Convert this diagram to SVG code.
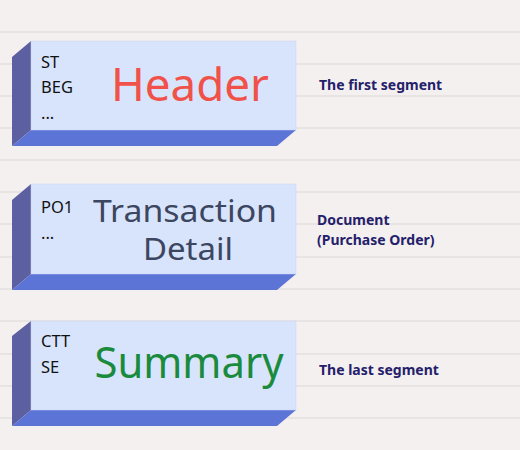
<svg xmlns="http://www.w3.org/2000/svg" width="520" height="450" viewBox="0 0 520 450">
<style>
.bg{fill:#f4f0f0}
.rule{stroke:#e9e4e4;stroke-width:2}
.front{fill:#d8e4fb;stroke:#c8d4f0;stroke-width:0.5}
.side{fill:#5c5fa0}
.bottom{fill:#5c74d6}
.seg{font-family:"Noto Sans","DejaVu Sans",sans-serif;font-size:16.5px;fill:#111}
.title{font-family:"Noto Sans","DejaVu Sans",sans-serif;text-anchor:middle}
.note{font-family:"Noto Sans","DejaVu Sans",sans-serif;font-size:14px;font-weight:bold;fill:#24206a}
</style>
<rect class="bg" x="0" y="0" width="520" height="450"/>
<g id="rules">
<line class="rule" x1="0" x2="520" y1="32" y2="32"/>
<line class="rule" x1="0" x2="520" y1="64" y2="64"/>
<line class="rule" x1="0" x2="520" y1="96" y2="96"/>
<line class="rule" x1="0" x2="520" y1="128" y2="128"/>
<line class="rule" x1="0" x2="520" y1="160" y2="160"/>
<line class="rule" x1="0" x2="520" y1="192" y2="192"/>
<line class="rule" x1="0" x2="520" y1="224" y2="224"/>
<line class="rule" x1="0" x2="520" y1="257" y2="257"/>
<line class="rule" x1="0" x2="520" y1="289" y2="289"/>
<line class="rule" x1="0" x2="520" y1="321" y2="321"/>
<line class="rule" x1="0" x2="520" y1="354" y2="354"/>
<line class="rule" x1="0" x2="520" y1="386" y2="386"/>
<line class="rule" x1="0" x2="520" y1="418" y2="418"/>
</g>
<g id="header">
<polygon class="side" points="12,57 31,41 31,130 12,146"/>
<polygon class="bottom" points="31,130 296,130 277,146 12,146"/>
<rect class="front" x="31" y="41" width="265" height="89"/>
<text class="seg" x="41" y="68">ST</text>
<text class="seg" x="41" y="93">BEG</text>
<text class="seg" x="41" y="119">...</text>
<text class="title" x="190" y="101" font-size="45" fill="#f0524a" textLength="158" lengthAdjust="spacingAndGlyphs">Header</text>
</g>
<g id="detail">
<polygon class="side" points="12,200 31,184 31,274 12,290"/>
<polygon class="bottom" points="31,274 296,274 277,290 12,290"/>
<rect class="front" x="31" y="184" width="265" height="90"/>
<text class="seg" x="41" y="213">PO1</text>
<text class="seg" x="41" y="239">...</text>
<text class="title" x="185" y="222" font-size="31" fill="#3c4660" textLength="184" lengthAdjust="spacingAndGlyphs">Transaction</text>
<text class="title" x="188" y="260" font-size="31" fill="#3c4660" textLength="90" lengthAdjust="spacingAndGlyphs">Detail</text>
</g>
<g id="summary">
<polygon class="side" points="12,336 31,321 31,410 12,426"/>
<polygon class="bottom" points="31,410 296,410 277,426 12,426"/>
<rect class="front" x="31" y="321" width="265" height="89"/>
<text class="seg" x="41" y="347">CTT</text>
<text class="seg" x="41" y="373">SE</text>
<text class="title" x="189" y="378" font-size="43" fill="#1a8a3c" textLength="189" lengthAdjust="spacingAndGlyphs">Summary</text>
</g>
<g id="notes">
<text class="note" x="319" y="90">The first segment</text>
<text class="note" x="317" y="225">Document</text>
<text class="note" x="317" y="245">(Purchase Order)</text>
<text class="note" x="319" y="375">The last segment</text>
</g>
<g id="connectors"></g>
</svg>
